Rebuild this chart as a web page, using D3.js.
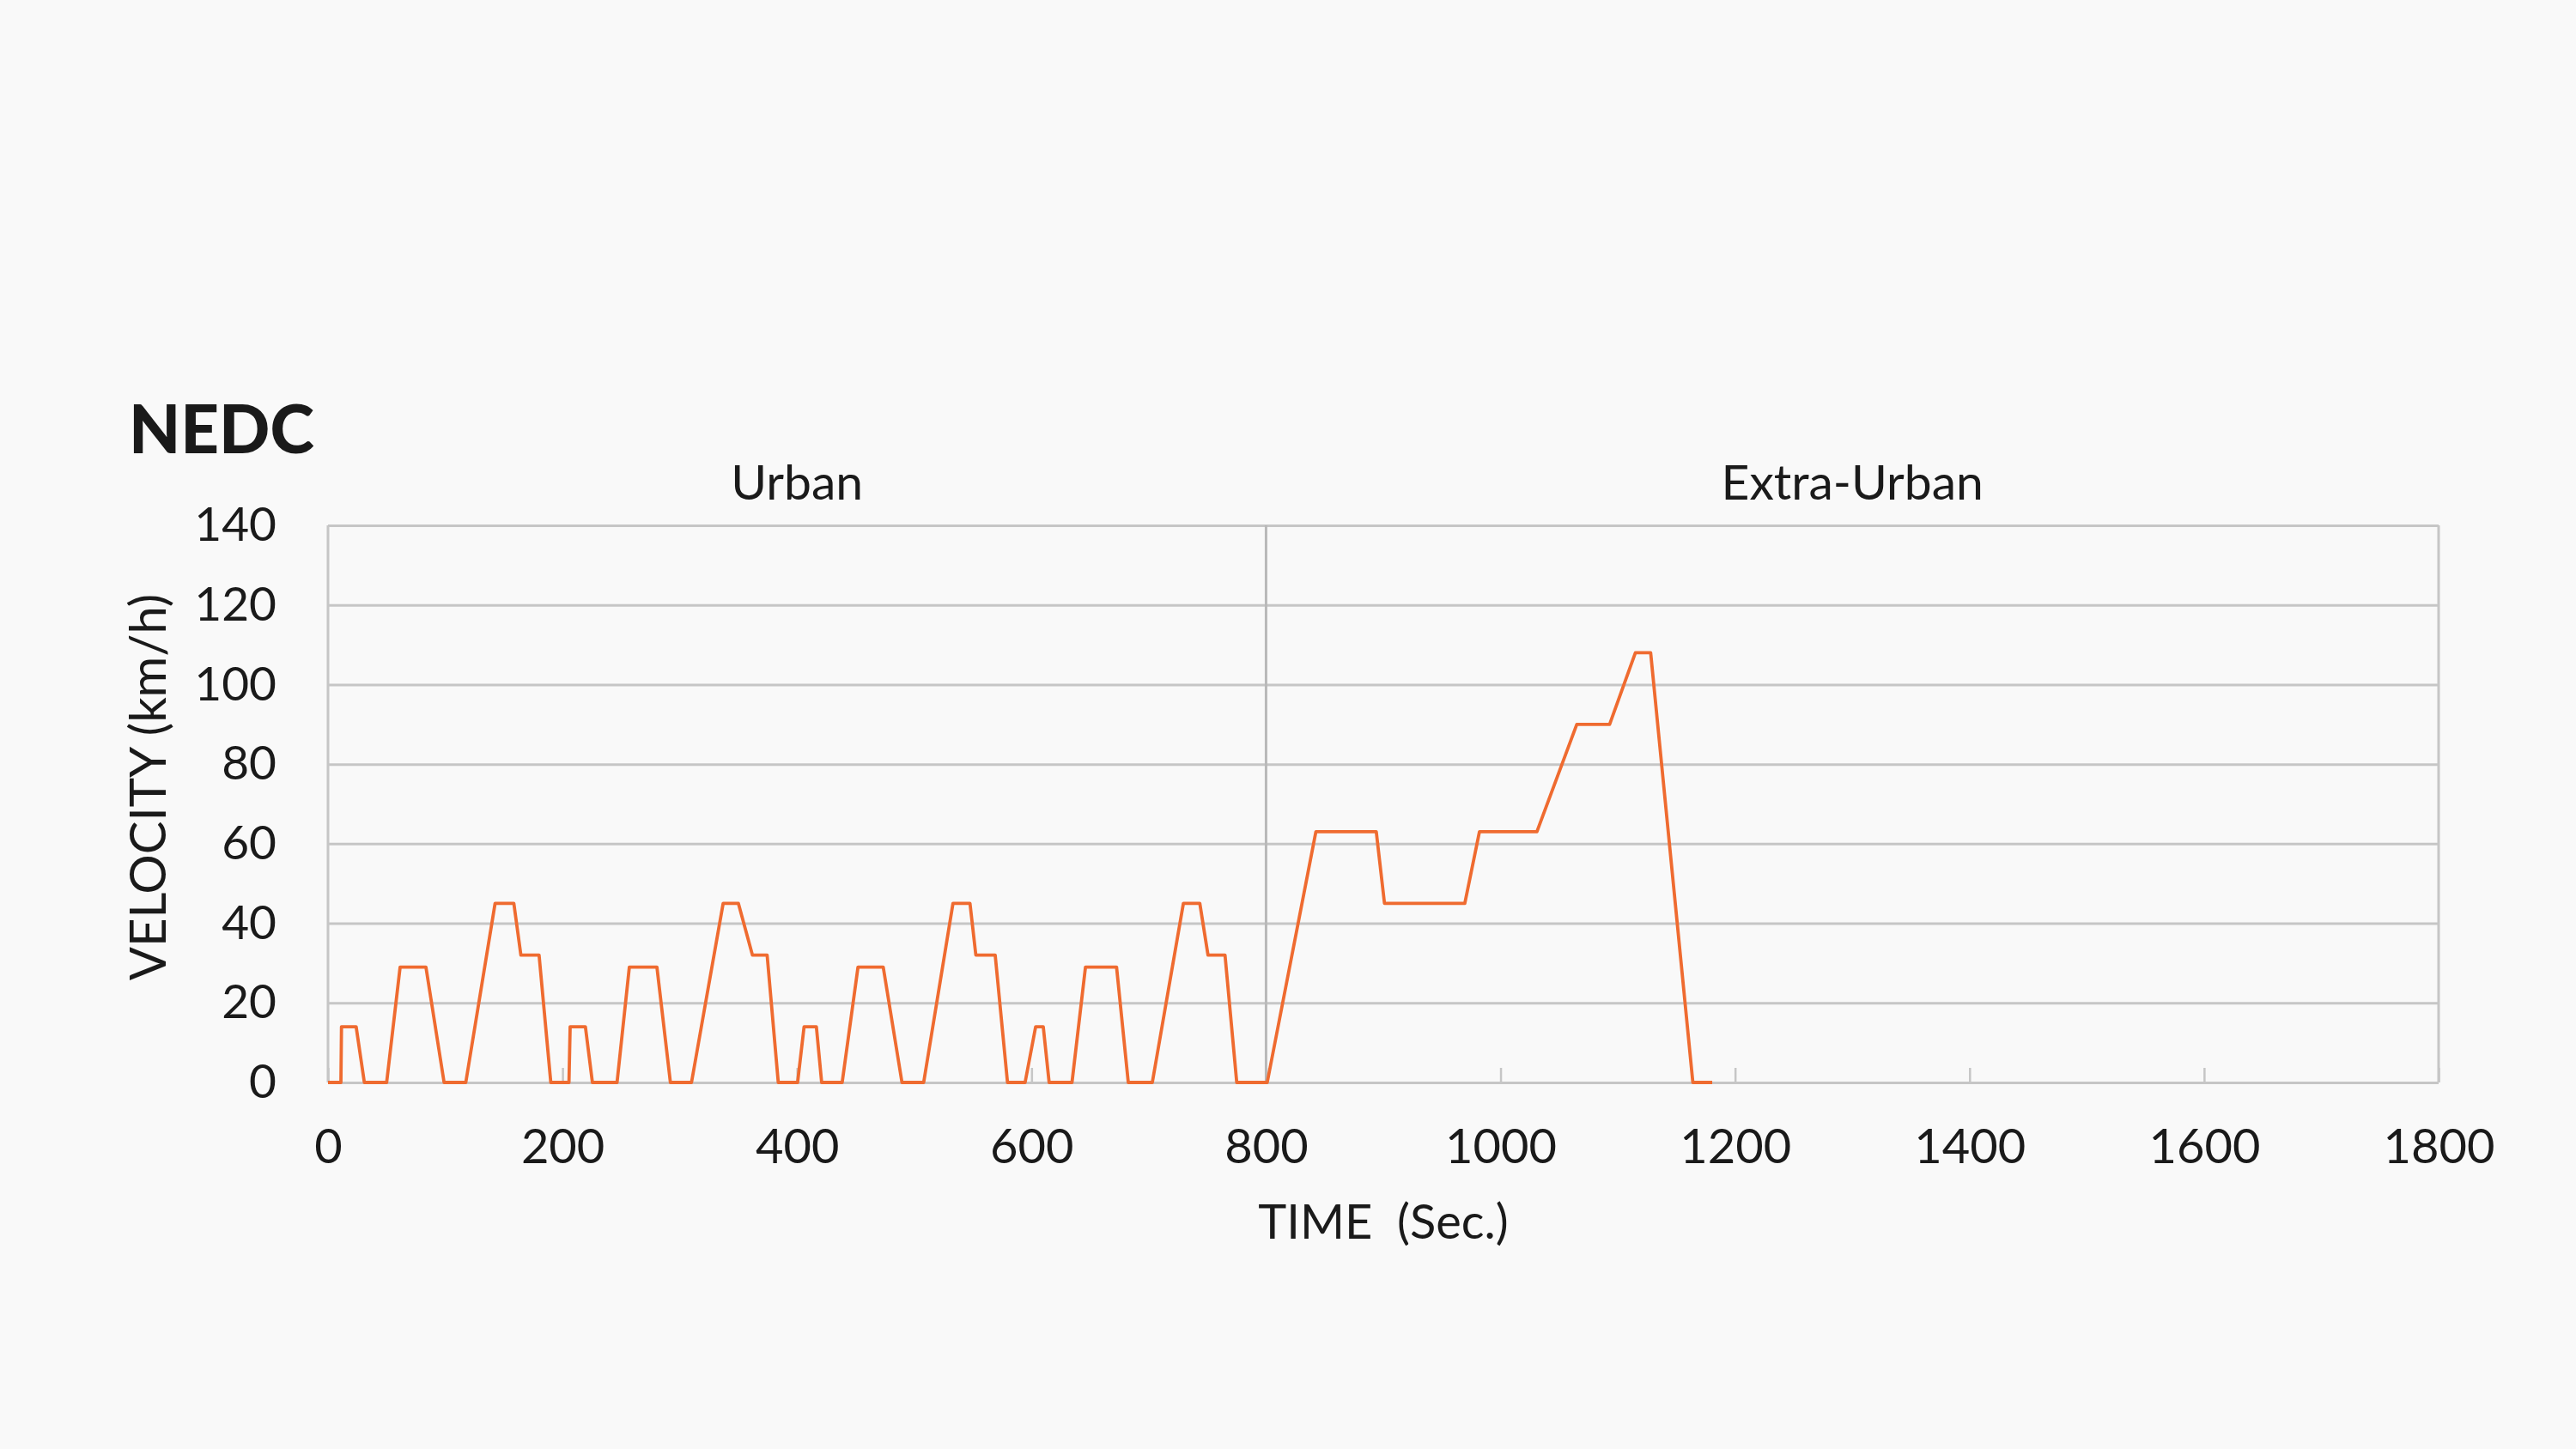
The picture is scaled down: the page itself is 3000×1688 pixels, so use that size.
<!DOCTYPE html>
<html>
<head>
<meta charset="utf-8">
<script src="https://cdn.jsdelivr.net/npm/d3@7"></script>
<style>
  html, body { margin: 0; padding: 0; background: #f9f9f9; }
  svg { display: block; }
  text { font-family: Lato, "Noto Sans", sans-serif; fill: #1a1a1a; }
</style>
</head>
<body>
<svg id="chart" width="3000" height="1688"></svg>
<script>
// ---- Data ----
const chartTitle = "NEDC";
const xAxisTitle = "TIME  (Sec.)";
const yAxisTitle = "VELOCITY (km/h)";
const sectionLabels = ["Urban", "Extra-Urban"];
const sectionCenters = [400, 1300];
const sectionBoundary = 800;
const xTicks = [0, 200, 400, 600, 800, 1000, 1200, 1400, 1600, 1800];
const yTicks = [0, 20, 40, 60, 80, 100, 120, 140];

const time = [
  0, 11, 11.5, 24, 31, 50, 61.5, 83.5, 99, 117.5, 142.5, 158.5, 164.5, 180, 190,
  205.5, 206.5, 219.5, 225.5, 246.5, 257, 280.5, 292, 310, 337, 350, 362, 374.5, 384,
  400.5, 406, 416.5, 421, 438.5, 452, 473.5, 489.5, 508, 533, 547.5, 552.5, 569, 579.5,
  594.5, 603.5, 610, 615, 634.5, 646, 672.5, 682.5, 703, 729.5, 743.5, 750.5, 765, 775,
  801, 842.5, 894, 901, 969.5, 982, 1031, 1065, 1093, 1115, 1128, 1164, 1180.5
];
const velocity = [
  0, 0, 14, 14, 0, 0, 29, 29, 0, 0, 45, 45, 32, 32, 0,
  0, 14, 14, 0, 0, 29, 29, 0, 0, 45, 45, 32, 32, 0,
  0, 14, 14, 0, 0, 29, 29, 0, 0, 45, 45, 32, 32, 0,
  0, 14, 14, 0, 0, 29, 29, 0, 0, 45, 45, 32, 32, 0,
  0, 63, 63, 45, 45, 63, 63, 90, 90, 108, 108, 0, 0
];

// ---- Layout ----
const plot = { left: 382, right: 2840, top: 612, bottom: 1261 };
const W = plot.right - plot.left, H = plot.bottom - plot.top;
const gridColor = "#c6c6c6";
const lineColor = "#ef6b30";

const svg = d3.select("#chart");
svg.append("rect").attr("width", 3000).attr("height", 1688).attr("fill", "#f9f9f9");

const x = d3.scaleLinear().domain([0, 1800]).range([0, W]);
const y = d3.scaleLinear().domain([0, 140]).range([H, 0]);

const g = svg.append("g").attr("transform", `translate(${plot.left},${plot.top})`);

// Y axis with gridlines
const yAxis = g.append("g")
  .call(d3.axisLeft(y).tickValues(yTicks).tickFormat(d3.format("d"))
    .tickSizeInner(-W).tickSizeOuter(0).tickPadding(60));
yAxis.select(".domain").remove();
yAxis.selectAll(".tick line").attr("stroke", gridColor).attr("stroke-width", 3);
yAxis.selectAll(".tick text").attr("font-size", 55).attr("fill", "#1a1a1a")
  .style("font-family", "Lato, sans-serif");

// X axis with short inward ticks
const xAxis = g.append("g").attr("transform", `translate(0,${H})`)
  .call(d3.axisBottom(x).tickValues(xTicks).tickFormat(d3.format("d"))
    .tickSizeInner(-17).tickSizeOuter(0).tickPadding(54));
xAxis.select(".domain").remove();
xAxis.selectAll(".tick line").attr("stroke", gridColor).attr("stroke-width", 2.5);
xAxis.selectAll(".tick text").attr("font-size", 56).attr("fill", "#1a1a1a")
  .style("font-family", "Lato, sans-serif");

// Frame verticals: left, section boundary, right
[0, sectionBoundary, 1800].forEach(v => {
  g.append("line")
    .attr("x1", x(v)).attr("x2", x(v)).attr("y1", 0).attr("y2", H)
    .attr("stroke", v === sectionBoundary ? "#b9b9b9" : gridColor)
    .attr("stroke-width", 3);
});

// Velocity line
const pts = time.map((t, i) => [t, velocity[i]]);
g.append("path")
  .datum(pts)
  .attr("fill", "none")
  .attr("stroke", lineColor)
  .attr("stroke-width", 3.8)
  .attr("stroke-linejoin", "round")
  .attr("d", d3.line().x(d => x(d[0])).y(d => y(d[1])));

// Section labels
sectionLabels.forEach((s, i) => {
  g.append("text")
    .attr("x", x(sectionCenters[i])).attr("y", 582 - plot.top)
    .attr("text-anchor", "middle").attr("font-size", 57)
    .text(s);
});

// Title
svg.append("text")
  .attr("x", 150).attr("y", 528)
  .attr("font-size", 78).attr("font-weight", 900)
  .style("font-family", "Lato, sans-serif")
  .attr("fill", "#111")
  .text(chartTitle);

// Axis titles
svg.append("text")
  .attr("x", plot.left + W / 2).attr("y", 1443)
  .attr("text-anchor", "middle").attr("font-size", 56)
  .attr("xml:space", "preserve")
  .style("white-space", "pre")
  .text(xAxisTitle);

svg.append("text")
  .attr("transform", `translate(193,917) rotate(-90)`)
  .attr("text-anchor", "middle").attr("font-size", 58)
  .text(yAxisTitle);
</script>
</body>
</html>
